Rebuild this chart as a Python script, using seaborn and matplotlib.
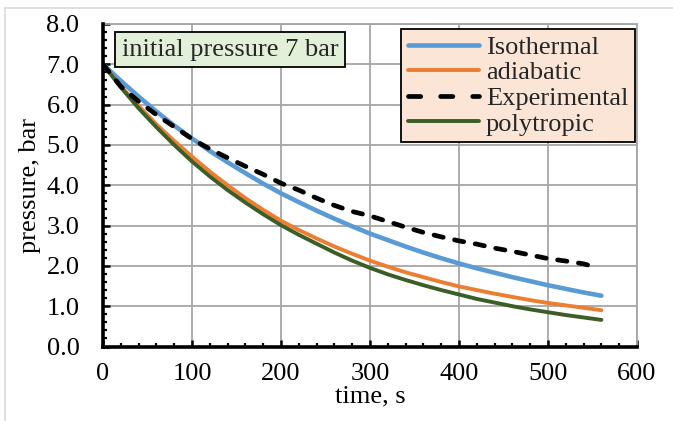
import numpy as np
import pandas as pd
import matplotlib
matplotlib.use("Agg")
import matplotlib.pyplot as plt
from matplotlib.patches import Rectangle
from matplotlib.lines import Line2D
from matplotlib.ticker import MultipleLocator
import seaborn as sns

# ---- data ----
time_model = [0, 20, 40, 60, 80, 100, 120, 140, 160, 180, 200, 220, 240, 260, 280,
              300, 320, 340, 360, 380, 400, 420, 440, 460, 480, 500, 520, 540, 560]
isothermal = [7.00, 6.59, 6.20, 5.83, 5.48, 5.16, 4.85, 4.57, 4.30, 4.04, 3.80, 3.58, 3.37,
              3.17, 2.98, 2.80, 2.64, 2.48, 2.33, 2.19, 2.06, 1.94, 1.83, 1.72, 1.62, 1.52,
              1.43, 1.34, 1.26]
adiabatic = [7.00, 6.46, 5.97, 5.51, 5.10, 4.71, 4.34, 4.00, 3.68, 3.39, 3.12, 2.89, 2.68,
             2.48, 2.30, 2.13, 1.98, 1.84, 1.72, 1.60, 1.49, 1.40, 1.31, 1.23, 1.15, 1.08,
             1.02, 0.96, 0.90]
polytropic = [7.00, 6.43, 5.91, 5.44, 5.00, 4.59, 4.22, 3.88, 3.57, 3.28, 3.01, 2.77, 2.55,
              2.33, 2.13, 1.95, 1.79, 1.65, 1.52, 1.40, 1.29, 1.18, 1.09, 1.00, 0.92, 0.85,
              0.78, 0.72, 0.66]
time_exp = [0, 20, 40, 60, 80, 100, 120, 140, 160, 180, 200, 220, 240, 260, 280, 300,
            320, 340, 360, 380, 400, 420, 440, 460, 480, 500, 520, 540, 552]
experimental = [7.00, 6.45, 6.08, 5.75, 5.45, 5.15, 4.90, 4.68, 4.47, 4.27, 4.05, 3.88,
                3.68, 3.50, 3.35, 3.24, 3.10, 2.96, 2.83, 2.72, 2.62, 2.54, 2.44, 2.36,
                2.27, 2.18, 2.12, 2.05, 1.98]

x_ticks = [0, 100, 200, 300, 400, 500, 600]
y_ticks = [0.0, 1.0, 2.0, 3.0, 4.0, 5.0, 6.0, 7.0, 8.0]

df_model = pd.DataFrame({"time": time_model, "Isothermal": isothermal,
                         "adiabatic": adiabatic, "polytropic": polytropic})
df_exp = pd.DataFrame({"time": time_exp, "Experimental": experimental})

sns.set_theme(style="white")
plt.rcParams["font.family"] = ["Liberation Serif", "DejaVu Serif"]
plt.rcParams["font.size"] = 19

fig = plt.figure(figsize=(6.73, 4.21), dpi=100)
fig.patches.append(Rectangle((5 / 673, -0.1), 1.2, (421 - 8) / 421 + 0.1,
                             transform=fig.transFigure, fill=False,
                             edgecolor="#D9D9D9", linewidth=1.2, zorder=0))
ax = fig.add_axes([103 / 673, (421 - 346.5) / 421, 534 / 673, 322.5 / 421])

grid_c = "#A6A6A6"
ax.set_xlim(0, 600)
ax.set_ylim(0, 8)
ax.set_xticks(x_ticks)
ax.set_yticks(y_ticks)
ax.set_xticklabels([str(v) for v in x_ticks])
ax.set_yticklabels([f"{v:.1f}" for v in y_ticks])
ax.xaxis.set_minor_locator(MultipleLocator(20))
ax.yaxis.set_minor_locator(MultipleLocator(0.2))
ax.grid(True, which="major", color=grid_c, linewidth=1.3, zorder=0)
ax.set_axisbelow(True)

for s in ["top", "right"]:
    ax.spines[s].set_color(grid_c)
    ax.spines[s].set_linewidth(1.3)
for s in ["left", "bottom"]:
    ax.spines[s].set_color("black")
    ax.spines[s].set_linewidth(2.6)
    ax.spines[s].set_zorder(5)

ax.tick_params(axis="both", which="both", bottom=True, left=True, top=False,
               right=False, direction="in", color="black")
ax.tick_params(axis="both", which="major", length=5, width=1.8,
               labelsize=19, labelcolor="black")
ax.tick_params(axis="both", which="minor", length=3.2, width=1.6)
ax.tick_params(axis="y", which="both", pad=17)
ax.tick_params(axis="x", which="both", pad=12)

sns.lineplot(data=df_model, x="time", y="Isothermal", ax=ax, color="#5B9BD5",
             linewidth=3.3, solid_capstyle="round", zorder=3)
sns.lineplot(data=df_model, x="time", y="adiabatic", ax=ax, color="#ED7D31",
             linewidth=2.8, solid_capstyle="round", zorder=3)
sns.lineplot(data=df_model, x="time", y="polytropic", ax=ax, color="#3B5E27",
             linewidth=2.8, solid_capstyle="round", zorder=3)
sns.lineplot(data=df_exp, x="time", y="Experimental", ax=ax, color="black",
             linewidth=3.4, linestyle=(0, (2.0, 2.45)), dash_capstyle="round",
             zorder=4)

ax.set_xlabel("time, s", fontsize=19, labelpad=0, color="black")
ax.set_ylabel("pressure, bar", fontsize=19, labelpad=4, color="black")

order = ["Isothermal", "adiabatic", "Experimental", "polytropic"]
handles = [
    Line2D([], [], color="#5B9BD5", lw=3.3, solid_capstyle="round"),
    Line2D([], [], color="#ED7D31", lw=2.8, solid_capstyle="round"),
    Line2D([], [], color="black", lw=3.4, linestyle=(0, (2.6, 4.2)),
           dash_capstyle="round"),
    Line2D([], [], color="#3B5E27", lw=2.8, solid_capstyle="round"),
]
leg = ax.legend(handles, order, loc="upper right",
                bbox_to_anchor=(0.996, 0.985), borderaxespad=0, frameon=True,
                fancybox=False, fontsize=19, handlelength=2.7, handletextpad=0.25,
                labelspacing=0.08, borderpad=0.25)
leg.get_frame().set_facecolor("#FBE5D6")
leg.get_frame().set_edgecolor("black")
leg.get_frame().set_linewidth(1.3)
leg.get_frame().set_alpha(1)
leg.set_zorder(6)

ax.text(0.035, 0.955, "initial pressure 7 bar", transform=ax.transAxes,
        fontsize=19, va="top", ha="left", zorder=6,
        bbox=dict(boxstyle="square,pad=0.25", facecolor="#E2F0D9",
                  edgecolor="black", linewidth=1.3))

fig.savefig("out.png", dpi=100)
